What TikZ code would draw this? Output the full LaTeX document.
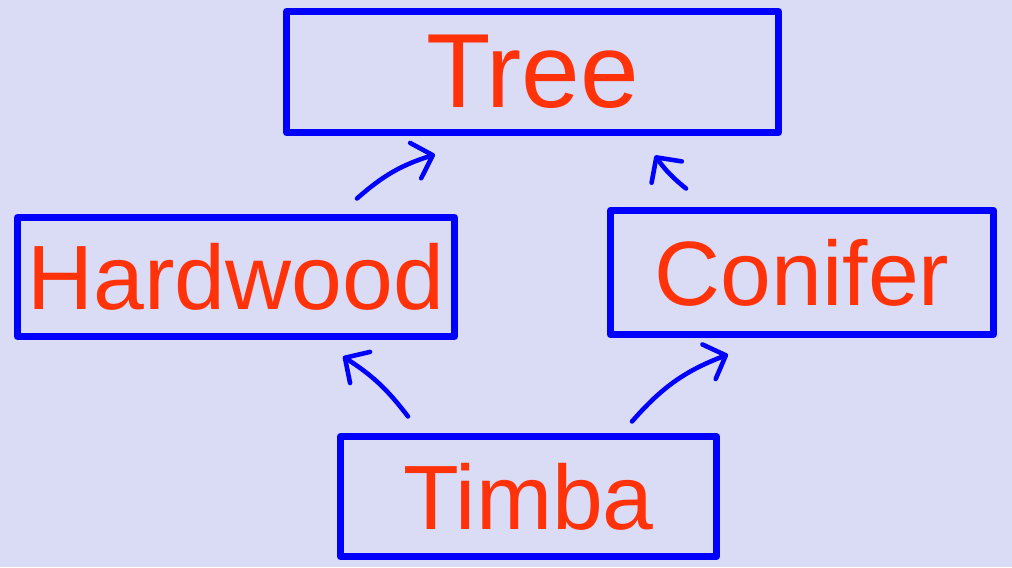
\documentclass[tikz,border=0pt]{standalone}
\usepackage{fontspec}
\setmainfont{Liberation Sans}
\usepackage{tikz}
\usetikzlibrary{arrows.meta}
\definecolor{pagebg}{RGB}{218, 219, 245}
\definecolor{boxblue}{RGB}{0, 0, 255}
\definecolor{namered}{RGB}{255, 50, 10}

\begin{document}
\begin{tikzpicture}[
		classbox/.style={draw=boxblue, line width=4pt, line join=round, inner sep=0pt,
			text=namered, font=\fontsize{52}{60}\selectfont},
		isa/.style={draw=boxblue, line width=2.6pt, line cap=round,
			-{Straight Barb[length=3.6mm, width=7.4mm, round]}}
	]
	% --- background, fixes the page size ---
	\fill[pagebg] (0, 0) rectangle (20.24, 11.34);
	\useasboundingbox (0, 0) rectangle (20.24, 11.34);

	% --- class boxes ---
	\node[classbox, minimum width=9.84cm, minimum height=2.42cm,
		font=\fontsize{60}{68}\selectfont] (tree) at (10.65, 9.90) {Tree};
	\node[classbox, minimum width=8.74cm, minimum height=2.38cm] (hardwood) at (4.72, 5.80) {Hardwood};
	\node[classbox, minimum width=7.66cm, minimum height=2.48cm] (conifer) at (16.04, 5.89) {Conifer};
	\node[classbox, minimum width=7.52cm, minimum height=2.40cm] (timba) at (10.57, 1.41) {Timba};

	% --- inheritance arrows ---
	\draw[isa] ([xshift=2.42cm, yshift=0.31cm]hardwood.north)
		to[bend left=12] ([xshift=-1.95cm, yshift=-0.37cm]tree.south);
	\draw[isa] ([xshift=-2.32cm, yshift=0.37cm]conifer.north)
		to[bend left=8] ([xshift=2.45cm, yshift=-0.39cm]tree.south);
	\draw[isa] ([xshift=-2.41cm, yshift=0.33cm]timba.north)
		to[bend right=10] ([xshift=2.14cm, yshift=-0.33cm]hardwood.south);
	\draw[isa] ([xshift=2.07cm, yshift=0.23cm]timba.north)
		to[bend left=14] ([xshift=-1.48cm, yshift=-0.33cm]conifer.south);
\end{tikzpicture}
\end{document}
